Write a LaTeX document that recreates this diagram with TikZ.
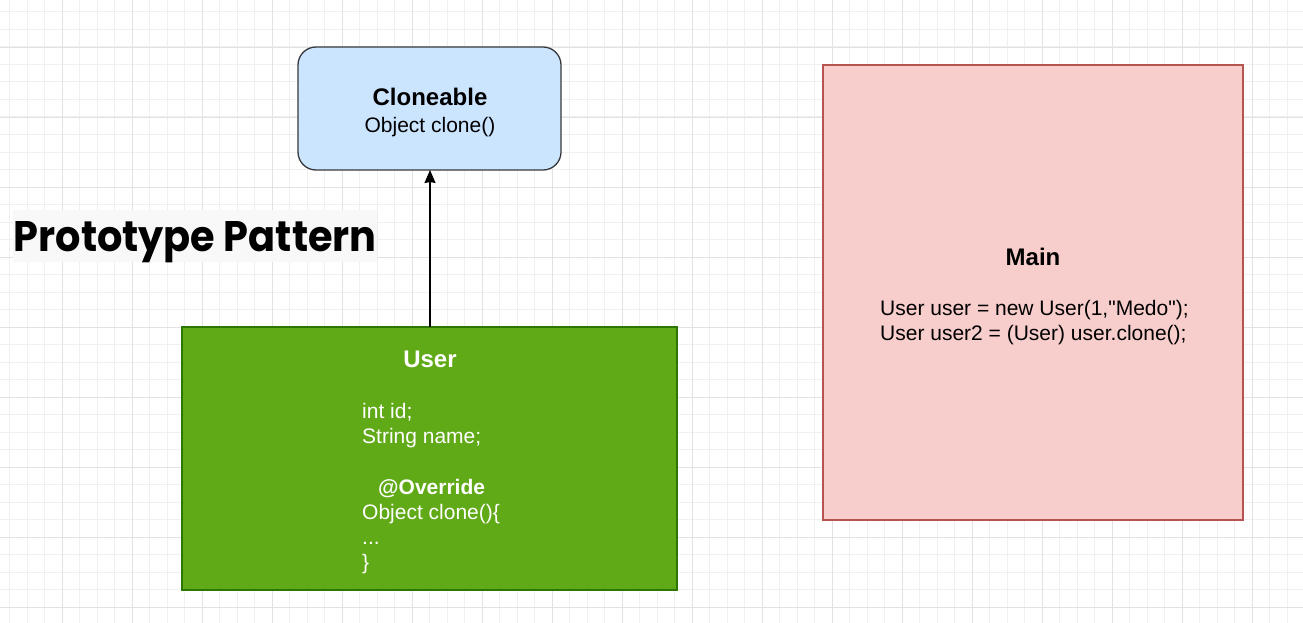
\documentclass[tikz,border=0pt]{standalone}
\usepackage{fontspec}
\setmainfont{Liberation Sans}
\newfontfamily\qfont{Liberation Sans}
\newfontfamily\titlefont{Poppins}
\usetikzlibrary{arrows.meta}
\definecolor{gridminor}{HTML}{F0F0F0}
\definecolor{gridmajor}{HTML}{E2E2E2}
\definecolor{blfill}{HTML}{CCE5FF}
\definecolor{blline}{HTML}{36393D}
\definecolor{grfill}{HTML}{60A917}
\definecolor{grline}{HTML}{2D7600}
\definecolor{rdfill}{HTML}{F8CECC}
\definecolor{rdline}{HTML}{B85450}
\definecolor{titlebg}{HTML}{F8F8F8}
\tikzset{
  boxstyle/.style={line width=1.3pt},
  txt/.style={inner sep=0pt, font=\fontsize{21}{25}\selectfont},
  boldtxt/.style={inner sep=0pt, font=\fontsize{24}{28}\selectfont\bfseries},
  whitetxt/.style={txt, text=white},
}
\begin{document}
\begin{tikzpicture}[x=1pt,y=-1pt]
\useasboundingbox (0,0) rectangle (1303,623);
\fill[white] (0,0) rectangle (1303,623);
% grid
\foreach \i in {0,...,74} {
  \draw[gridminor, line width=1pt] ({9.8+17.5*\i},0) -- ({9.8+17.5*\i},623);
}
\foreach \i in {0,...,35} {
  \draw[gridminor, line width=1pt] (0,{12+17.5*\i}) -- (1303,{12+17.5*\i});
}
\foreach \i in {0,...,18} {
  \draw[gridmajor, line width=1pt] ({-7.7+70*\i},0) -- ({-7.7+70*\i},623);
}
\foreach \i in {0,...,9} {
  \draw[gridmajor, line width=1pt] (0,{47.3+70*\i-70}) -- (1303,{47.3+70*\i-70});
}
% title
\fill[titlebg] (13,210) rectangle (377,262);
\node[inner sep=0pt, anchor=base west] (title) at (13.5,251)
  {\resizebox{363pt}{30pt}{\titlefont\bfseries Prototype Pattern}};
% Cloneable
\draw[boxstyle, draw=blline, fill=blfill, rounded corners=18pt] (298,47) rectangle (561,170);
\coordinate (clbot) at (430,170);
\node[boldtxt, anchor=base] (clname) at (430,106) {Cloneable};
\node[txt, anchor=base] (clmeth) at (430,132) {Object clone()};
% User
\draw[boxstyle, draw=grline, fill=grfill] (182,327) rectangle (677,590);
\coordinate (ustop) at (430,327);
\node[boldtxt, anchor=base, text=white] (usname) at (430,367) {User};
\node[whitetxt, anchor=base west] (u1) at (362,418) {int id;};
\node[whitetxt, anchor=base west] (u2) at (362,443) {String name;};
\node[whitetxt, anchor=base west, font=\fontsize{21}{25}\selectfont\bfseries] (u3) at (378,494) {@Override};
\node[whitetxt, anchor=base west] (u4) at (362,519) {Object clone()\{};
\node[whitetxt, anchor=base west] (u5) at (362,544) {...};
\node[whitetxt, anchor=base west] (u6) at (362,569) {\}};
% Main
\draw[boxstyle, draw=rdline, fill=rdfill] (823,65) rectangle (1243,520);
\node[boldtxt, anchor=base] (mname) at (1033,265) {Main};
\node[txt, anchor=base west] (m1) at (880,315) {User user = new User(1,{\qfont"}Medo{\qfont"});};
\node[txt, anchor=base west] (m2) at (880,340) {User user2 = (User) user.clone();};
% arrow
\draw[line width=1.3pt, -{Stealth[length=13pt,width=11pt,inset=1pt]}] (ustop) -- (clbot);
\end{tikzpicture}
\end{document}
